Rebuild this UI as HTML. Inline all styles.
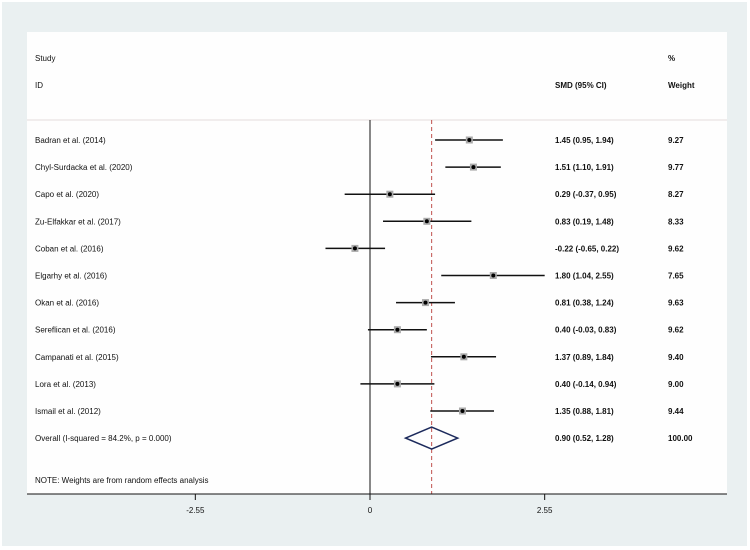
<!DOCTYPE html>
<html><head><meta charset="utf-8">
<style>
body{margin:0;background:#fff;}
svg{display:block;font-family:"Liberation Sans",Arial,sans-serif;}
</style></head>
<body>
<svg id="chart" width="750" height="550" xmlns="http://www.w3.org/2000/svg">
<rect x="2" y="2" width="745" height="544" fill="#eaf0f1"/>
<rect x="27" y="32" width="700" height="462" fill="#fefefe"/>
<line x1="27" y1="120" x2="727" y2="120" stroke="#e4dcdc" stroke-width="1"/>
<g font-size="8" fill="#111">
<text x="35" y="61">Study</text>
<text x="35" y="88">ID</text>
<text x="555" y="88" font-weight="bold">SMD (95% CI)</text>
<text x="668" y="61" font-weight="bold">%</text>
<text x="668" y="88" font-weight="bold">Weight</text>
<text x="35" y="483">NOTE: Weights are from random effects analysis</text>
</g>
<g id="marks"></g>
</svg>
<script>
const studies=["Badran et al. (2014)","Chyl-Surdacka et al. (2020)","Capo et al. (2020)","Zu-Elfakkar et al. (2017)","Coban et al. (2016)","Elgarhy et al. (2016)","Okan et al. (2016)","Sereflican et al. (2016)","Campanati et al. (2015)","Lora et al. (2013)","Ismail et al. (2012)"];
const smd=[1.45,1.51,0.29,0.83,-0.22,1.80,0.81,0.40,1.37,0.40,1.35];
const lower=[0.95,1.10,-0.37,0.19,-0.65,1.04,0.38,-0.03,0.89,-0.14,0.88];
const upper=[1.94,1.91,0.95,1.48,0.22,2.55,1.24,0.83,1.84,0.94,1.81];
const weights=["9.27","9.77","8.27","8.33","9.62","7.65","9.63","9.62","9.40","9.00","9.44"];
const overall=[0.90,0.52,1.28];
const overallLabel="Overall  (I-squared = 84.2%, p = 0.000)";
const ticks=[-2.55,0,2.55];
const tickLabels=["-2.55","0","2.55"];

const NS="http://www.w3.org/2000/svg";
const x=v=>370+v*68.5;
const y=i=>140+i*27.1;
const g=document.getElementById('marks');
function mk(t,a,txt){const e=document.createElementNS(NS,t);for(const k in a)e.setAttribute(k,a[k]);if(txt!==undefined)e.textContent=txt;g.appendChild(e);return e;}
const fmt=v=>v.toFixed(2);
let e;
e=mk('line',{x1:x(0),y1:120,x2:x(0),y2:494,stroke:'#111','stroke-width':1});


e=mk('line',{x1:x(overall[0]),y1:120,x2:x(overall[0]),y2:494,stroke:'#c0504d','stroke-width':1,'stroke-dasharray':'4,3'});


studies.forEach((s,i)=>{
  const yy=y(i);
  e=mk('text',{x:35,y:yy+3,'font-size':8,fill:'#111'},s);
  
  
  e=mk('line',{x1:x(lower[i]),y1:yy,x2:x(upper[i]),y2:yy,stroke:'#111','stroke-width':1.5});
  
  
  e=mk('rect',{x:x(smd[i])-3.5,y:yy-3.5,width:7,height:7,fill:'#aaa'});
  
  
  e=mk('circle',{cx:x(smd[i]),cy:yy,r:2,fill:'#000'});
  
  
  e=mk('text',{x:555,y:yy+3,'font-size':8,'font-weight':'bold',fill:'#111'},fmt(smd[i])+" ("+fmt(lower[i])+", "+fmt(upper[i])+")");
  
  
  e=mk('text',{x:668,y:yy+3,'font-size':8,'font-weight':'bold',fill:'#111'},weights[i]);
  
  
});
const oy=y(studies.length);
e=mk('text',{x:35,y:oy+3,'font-size':8,fill:'#111'},overallLabel);


e=mk('polygon',{points:`${x(overall[1])},${oy} ${x(overall[0])},${oy-11} ${x(overall[2])},${oy} ${x(overall[0])},${oy+11}`,fill:'none',stroke:'#1c2a5c','stroke-width':1.5});


e=mk('text',{x:555,y:oy+3,'font-size':8,'font-weight':'bold',fill:'#111'},fmt(overall[0])+" ("+fmt(overall[1])+", "+fmt(overall[2])+")");


e=mk('text',{x:668,y:oy+3,'font-size':8,'font-weight':'bold',fill:'#111'},"100.00");


e=mk('line',{x1:27,y1:494,x2:727,y2:494,stroke:'#111','stroke-width':1});


ticks.forEach((t,i)=>{
  e=mk('line',{x1:x(t),y1:494,x2:x(t),y2:500,stroke:'#111','stroke-width':1});
  
  
  e=mk('text',{x:x(t),y:513,'font-size':8,'text-anchor':'middle',fill:'#111'},tickLabels[i]);
  
  
});
</script>
</body></html>
